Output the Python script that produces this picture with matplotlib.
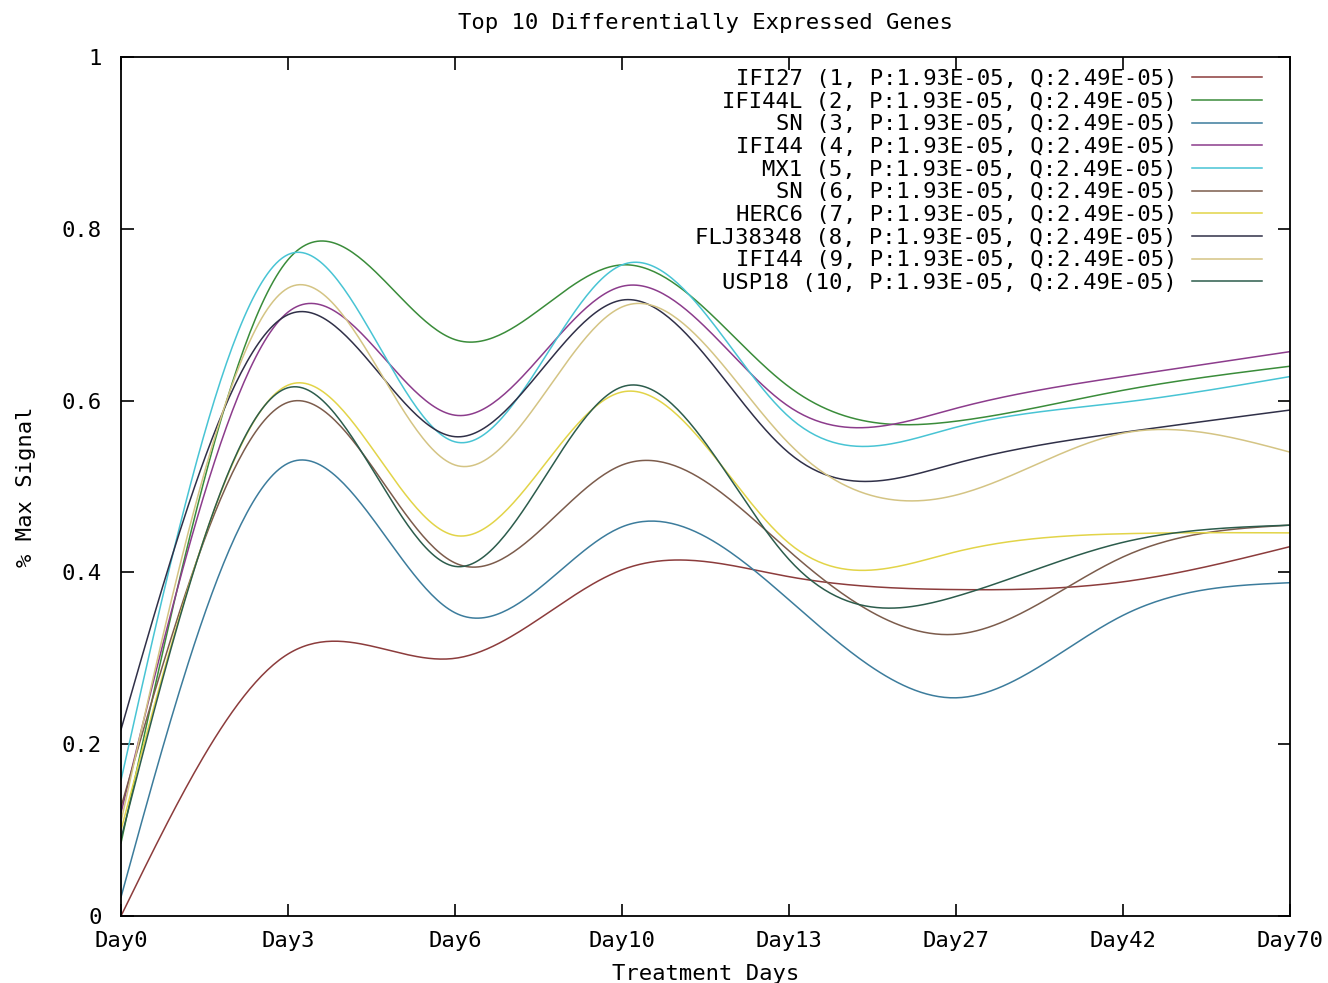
import numpy as np
import matplotlib
matplotlib.use("Agg")
import matplotlib.pyplot as plt

days = ["Day0", "Day3", "Day6", "Day10", "Day13", "Day27", "Day42", "Day70"]

labels = [
    "IFI27 (1, P:1.93E-05, Q:2.49E-05)",
    "IFI44L (2, P:1.93E-05, Q:2.49E-05)",
    "SN (3, P:1.93E-05, Q:2.49E-05)",
    "IFI44 (4, P:1.93E-05, Q:2.49E-05)",
    "MX1 (5, P:1.93E-05, Q:2.49E-05)",
    "SN (6, P:1.93E-05, Q:2.49E-05)",
    "HERC6 (7, P:1.93E-05, Q:2.49E-05)",
    "FLJ38348 (8, P:1.93E-05, Q:2.49E-05)",
    "IFI44 (9, P:1.93E-05, Q:2.49E-05)",
    "USP18 (10, P:1.93E-05, Q:2.49E-05)",
]

# values read at each day (fraction of max signal)
ifi27   = [0.000, 0.305, 0.300, 0.403, 0.395, 0.380, 0.389, 0.430]
ifi44l  = [0.085, 0.764, 0.671, 0.758, 0.616, 0.576, 0.612, 0.640]
sn3     = [0.022, 0.527, 0.353, 0.453, 0.368, 0.254, 0.350, 0.388]
ifi44_4 = [0.120, 0.703, 0.583, 0.733, 0.593, 0.591, 0.628, 0.657]
mx1     = [0.158, 0.770, 0.552, 0.758, 0.581, 0.569, 0.598, 0.628]
sn6     = [0.127, 0.598, 0.411, 0.525, 0.425, 0.328, 0.418, 0.455]
herc6   = [0.100, 0.618, 0.443, 0.610, 0.434, 0.424, 0.445, 0.446]
flj     = [0.217, 0.700, 0.558, 0.717, 0.539, 0.527, 0.563, 0.589]
ifi44_9 = [0.110, 0.731, 0.525, 0.709, 0.550, 0.490, 0.562, 0.540]
usp18   = [0.090, 0.615, 0.407, 0.616, 0.415, 0.372, 0.435, 0.455]

series = [ifi27, ifi44l, sn3, ifi44_4, mx1, sn6, herc6, flj, ifi44_9, usp18]
colors = ["#8c3c3c", "#3a8c3a", "#3c7c9c", "#8c3c8c", "#48c4d4",
          "#7c5c4c", "#e2d448", "#303048", "#d4c484", "#2c5c4c"]


def natural_spline(y, n=400):
    # natural cubic spline through equally spaced points (like gnuplot csplines)
    y = np.asarray(y, float)
    k = len(y)
    A = np.zeros((k, k))
    b = np.zeros(k)
    A[0, 0] = A[-1, -1] = 1
    for i in range(1, k - 1):
        A[i, i - 1], A[i, i], A[i, i + 1] = 1, 4, 1
        b[i] = 6 * (y[i + 1] - 2 * y[i] + y[i - 1])
    M = np.linalg.solve(A, b)
    xs = np.linspace(0, k - 1, n)
    idx = np.minimum(xs.astype(int), k - 2)
    t0 = xs - idx
    t1 = idx + 1 - xs
    ys = (M[idx] * t1 ** 3 / 6 + M[idx + 1] * t0 ** 3 / 6
          + (y[idx] - M[idx] / 6) * t1 + (y[idx + 1] - M[idx + 1] / 6) * t0)
    return xs, ys


plt.rcParams['font.family'] = ['DejaVu Sans Mono']
fs = 16

fig = plt.figure(figsize=(13.28, 9.83), dpi=100)
ax = fig.add_axes([121 / 1328, 67 / 983, 1169 / 1328, 859 / 983])

for vals, lab, c in zip(series, labels, colors):
    xs, ys = natural_spline(vals)
    ax.plot(xs, ys, color=c, lw=1.1, label=lab)

ax.set_xlim(0, len(days) - 1)
ax.set_ylim(0, 1)
ax.set_xticks(range(len(days)))
ax.set_xticklabels(days, fontsize=fs)
ax.set_yticks([0, 0.2, 0.4, 0.6, 0.8, 1])
ax.set_yticklabels(["0", "0.2", "0.4", "0.6", "0.8", "1"], fontsize=fs)
ax.tick_params(direction='in', length=9, width=1.2, top=True, right=True)
ax.tick_params(axis='x', pad=11)
ax.tick_params(axis='y', pad=14)
for s in ax.spines.values():
    s.set_linewidth(1.3)

ax.set_title("Top 10 Differentially Expressed Genes", fontsize=fs, pad=20)
ax.set_xlabel("Treatment Days", fontsize=fs, labelpad=9)
ax.set_ylabel("% Max Signal", fontsize=fs, labelpad=18)

ax.legend(loc='upper right', bbox_to_anchor=(1 - 28 / 1169, 1 - 12 / 859),
          frameon=False, markerfirst=False, fontsize=fs, borderpad=0,
          borderaxespad=0, handlelength=3.15, handletextpad=0.68,
          labelspacing=0.12)

fig.savefig("out.png", dpi=100)
